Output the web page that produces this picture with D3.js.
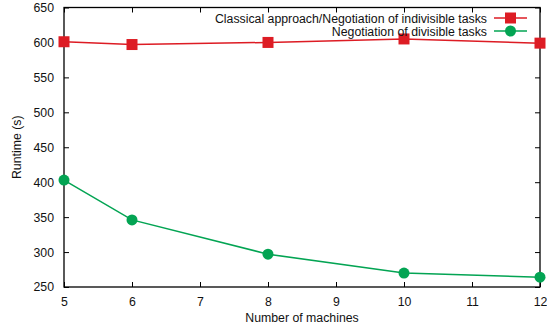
<!DOCTYPE html>
<html><head><meta charset="utf-8">
<script src="https://cdn.jsdelivr.net/npm/d3@7"></script>
<style>body{margin:0;background:#fff}svg{display:block}text{font-family:"Liberation Sans",Arial,sans-serif;fill:#111}</style>
</head><body>
<script>
const machines = [5, 6, 8, 10, 12];
const indivisible = [601, 597, 600, 605, 599];
const divisible = [403, 346, 297, 270, 264];
const seriesNames = ["Classical approach/Negotiation of indivisible tasks", "Negotiation of divisible tasks"];
const xTicks = [5, 6, 7, 8, 9, 10, 11, 12];
const yTicks = [250, 300, 350, 400, 450, 500, 550, 600, 650];

const W = 547, H = 328, FS = 12.3;
const m = {l: 64, r: 7, t: 7.5, b: 41};
const svg = d3.select("body").append("svg").attr("width", W).attr("height", H);
const x = d3.scaleLinear().domain([5, 12]).range([m.l, W - m.r]);
const y = d3.scaleLinear().domain([250, 650]).range([H - m.b, m.t]);

const g = svg.append("g");
const tl = 5;
const axB = d3.axisBottom(x).tickValues(xTicks).tickSize(-tl).tickPadding(10).tickFormat(d3.format("d"));
const axT = d3.axisTop(x).tickValues(xTicks).tickSize(-tl).tickFormat("");
const axL = d3.axisLeft(y).tickValues(yTicks).tickSize(-tl).tickPadding(10).tickFormat(d3.format("d"));
const axR = d3.axisRight(y).tickValues(yTicks).tickSize(-tl).tickFormat("");
[[axB, `translate(0,${H - m.b})`], [axT, `translate(0,${m.t})`], [axL, `translate(${m.l},0)`], [axR, `translate(${W - m.r},0)`]].forEach(([a, t]) => {
  const s = g.append("g").attr("transform", t).call(a);
  s.select(".domain").remove();
  s.selectAll("line").attr("stroke", "#000").attr("stroke-width", 1);
  s.selectAll("text").attr("font-size", FS).attr("font-family", "Liberation Sans, Arial, sans-serif").attr("fill", "#111");
});
g.append("rect").attr("x", m.l).attr("y", m.t).attr("width", W - m.r - m.l).attr("height", H - m.b - m.t)
  .attr("fill", "none").attr("stroke", "#000").attr("stroke-width", 1.3);

svg.append("text").attr("x", (m.l + W - m.r) / 2).attr("y", 322).attr("text-anchor", "middle").attr("font-size", FS).text("Number of machines");
svg.append("text").attr("transform", `translate(21,${(m.t + H - m.b) / 2}) rotate(-90)`).attr("text-anchor", "middle").attr("font-size", FS).text("Runtime (s)");

const red = "#dd1c24", green = "#03a453";
const line = d3.line().x((d, i) => x(machines[i])).y(d => y(d));
svg.append("path").datum(indivisible).attr("d", line).attr("fill", "none").attr("stroke", red).attr("stroke-width", 1.5);
svg.append("path").datum(divisible).attr("d", line).attr("fill", "none").attr("stroke", green).attr("stroke-width", 1.5);
const sq = 11;
svg.selectAll(".sq").data(indivisible).enter().append("rect")
  .attr("x", (d, i) => x(machines[i]) - sq / 2).attr("y", d => y(d) - sq / 2).attr("width", sq).attr("height", sq).attr("fill", red);
svg.selectAll(".ci").data(divisible).enter().append("circle")
  .attr("cx", (d, i) => x(machines[i])).attr("cy", d => y(d)).attr("r", 5.5).attr("fill", green);

const leg = [{n: seriesNames[0], c: red, t: "sq", yy: 18}, {n: seriesNames[1], c: green, t: "ci", yy: 31}];
leg.forEach(l => {
  svg.append("text").attr("x", 487).attr("y", l.yy + 4.5).attr("text-anchor", "end").attr("font-size", FS).text(l.n);
  svg.append("line").attr("x1", 494).attr("x2", 527).attr("y1", l.yy).attr("y2", l.yy).attr("stroke", l.c).attr("stroke-width", 1.5);
  if (l.t === "sq") svg.append("rect").attr("x", 510.5 - sq / 2).attr("y", l.yy - sq / 2).attr("width", sq).attr("height", sq).attr("fill", l.c);
  else svg.append("circle").attr("cx", 510.5).attr("cy", l.yy).attr("r", 5.5).attr("fill", l.c);
});
</script>
</body></html>
